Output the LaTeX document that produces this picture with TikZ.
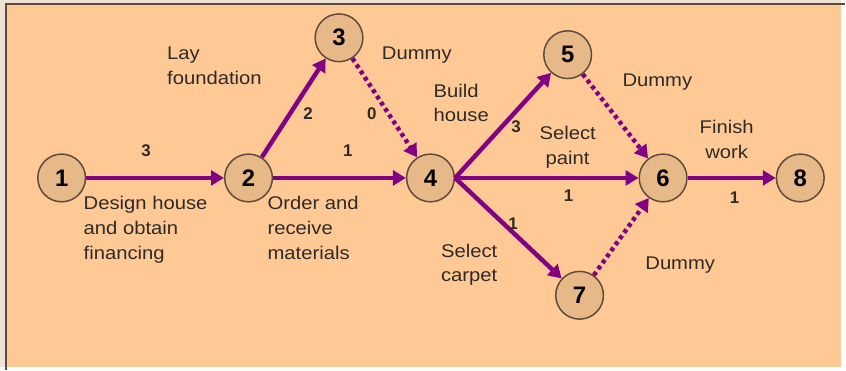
\documentclass[tikz,border=0pt]{standalone}
\usepackage{fontspec}
\setmainfont{Liberation Sans}
\newfontfamily\labelfont[FakeStretch=1.1]{Liberation Sans}
\usetikzlibrary{arrows.meta}
\definecolor{peach}{HTML}{FFC995}
\definecolor{outerstrip}{HTML}{EDE2D4}
\definecolor{framebrown}{HTML}{5E4B3C}
\definecolor{nodetan}{HTML}{E8B988}
\definecolor{edgepurple}{HTML}{820082}
\definecolor{inkgray}{HTML}{2E2A28}
\begin{document}
\begin{tikzpicture}[x=1pt,y=-1pt,
  event/.style={circle,draw=framebrown,line width=1.5pt,fill=nodetan,
    minimum size=48pt,inner sep=0pt,text=black,
    font=\fontsize{24}{24}\selectfont\bfseries},
  activity/.style={draw=edgepurple,line width=4.5pt,
    -{Triangle[length=13pt,width=15pt]}},
  dummy/.style={activity,dash pattern=on 4pt off 3.5pt},
  lbl/.style={text=inkgray,align=left,inner sep=0pt,
    font=\labelfont\fontsize{18.5}{25}\selectfont},
  wt/.style={text=inkgray,inner sep=0pt,
    font=\fontsize{17}{17}\selectfont\bfseries}]
% page, frame and background
\fill[outerstrip] (0,0) rectangle (846,369);
\fill[peach] (6,4) rectangle (846,369);
\draw[framebrown,line width=2pt] (6,372) -- (6,4) -- (850,4);
\useasboundingbox (0,0) rectangle (846,369);

% events
\node[event] (n1) at (62,179) {1};
\node[event] (n2) at (250,179) {2};
\node[event] (n3) at (341,38) {3};
\node[event] (n4) at (433,179) {4};
\node[event] (n5) at (571,55) {5};
\node[event] (n6) at (667,179) {6};
\node[event] (n7) at (583,297) {7};
\node[event] (n8) at (805,179) {8};

% activities
\draw[activity] (n1) -- (n2);
\draw[activity] (n2) -- (n3);
\draw[activity] (n2) -- (n4);
\draw[dummy] (n3) -- (n4);
\draw[activity] (n4.east) -- (n5);
\draw[activity] (n4) -- (n6);
\draw[activity] (n4.east) -- (n7);
\draw[dummy] (n5) -- (n6);
\draw[dummy] (n7) -- (n6);
\draw[activity] (n6) -- (n8);

% durations
\node[wt] (w12) at (147,152) {3};
\node[wt] (w23) at (310,114) {2};
\node[wt] (w34) at (374,114) {0};
\node[wt] (w24) at (350,152) {1};
\node[wt] (w45) at (519,127) {3};
\node[wt] (w46) at (572,197) {1};
\node[wt] (w47) at (516,225) {1};
\node[wt] (w68) at (739,199) {1};

% activity names
\node[lbl,anchor=north west] (t12) at (84,197) {Design house\\and obtain\\financing};
\node[lbl,anchor=north west] (t23) at (168,47) {Lay\\foundation};
\node[lbl,anchor=north west] (t24) at (269,197) {Order and\\receive\\materials};
\node[lbl,anchor=north west] (t34) at (384,47) {Dummy};
\node[lbl,anchor=north west] (t45) at (436,84) {Build\\house};
\node[lbl,anchor=north,align=center] (t46) at (571,127) {Select\\paint};
\node[lbl,anchor=north,align=center] (t47) at (472,245) {Select\\carpet};
\node[lbl,anchor=north west] (t56) at (626,74) {Dummy};
\node[lbl,anchor=north,align=center] (t68) at (731,121) {Finish\\work};
\node[lbl,anchor=north west] (t76) at (649,258) {Dummy};
\end{tikzpicture}
\end{document}
